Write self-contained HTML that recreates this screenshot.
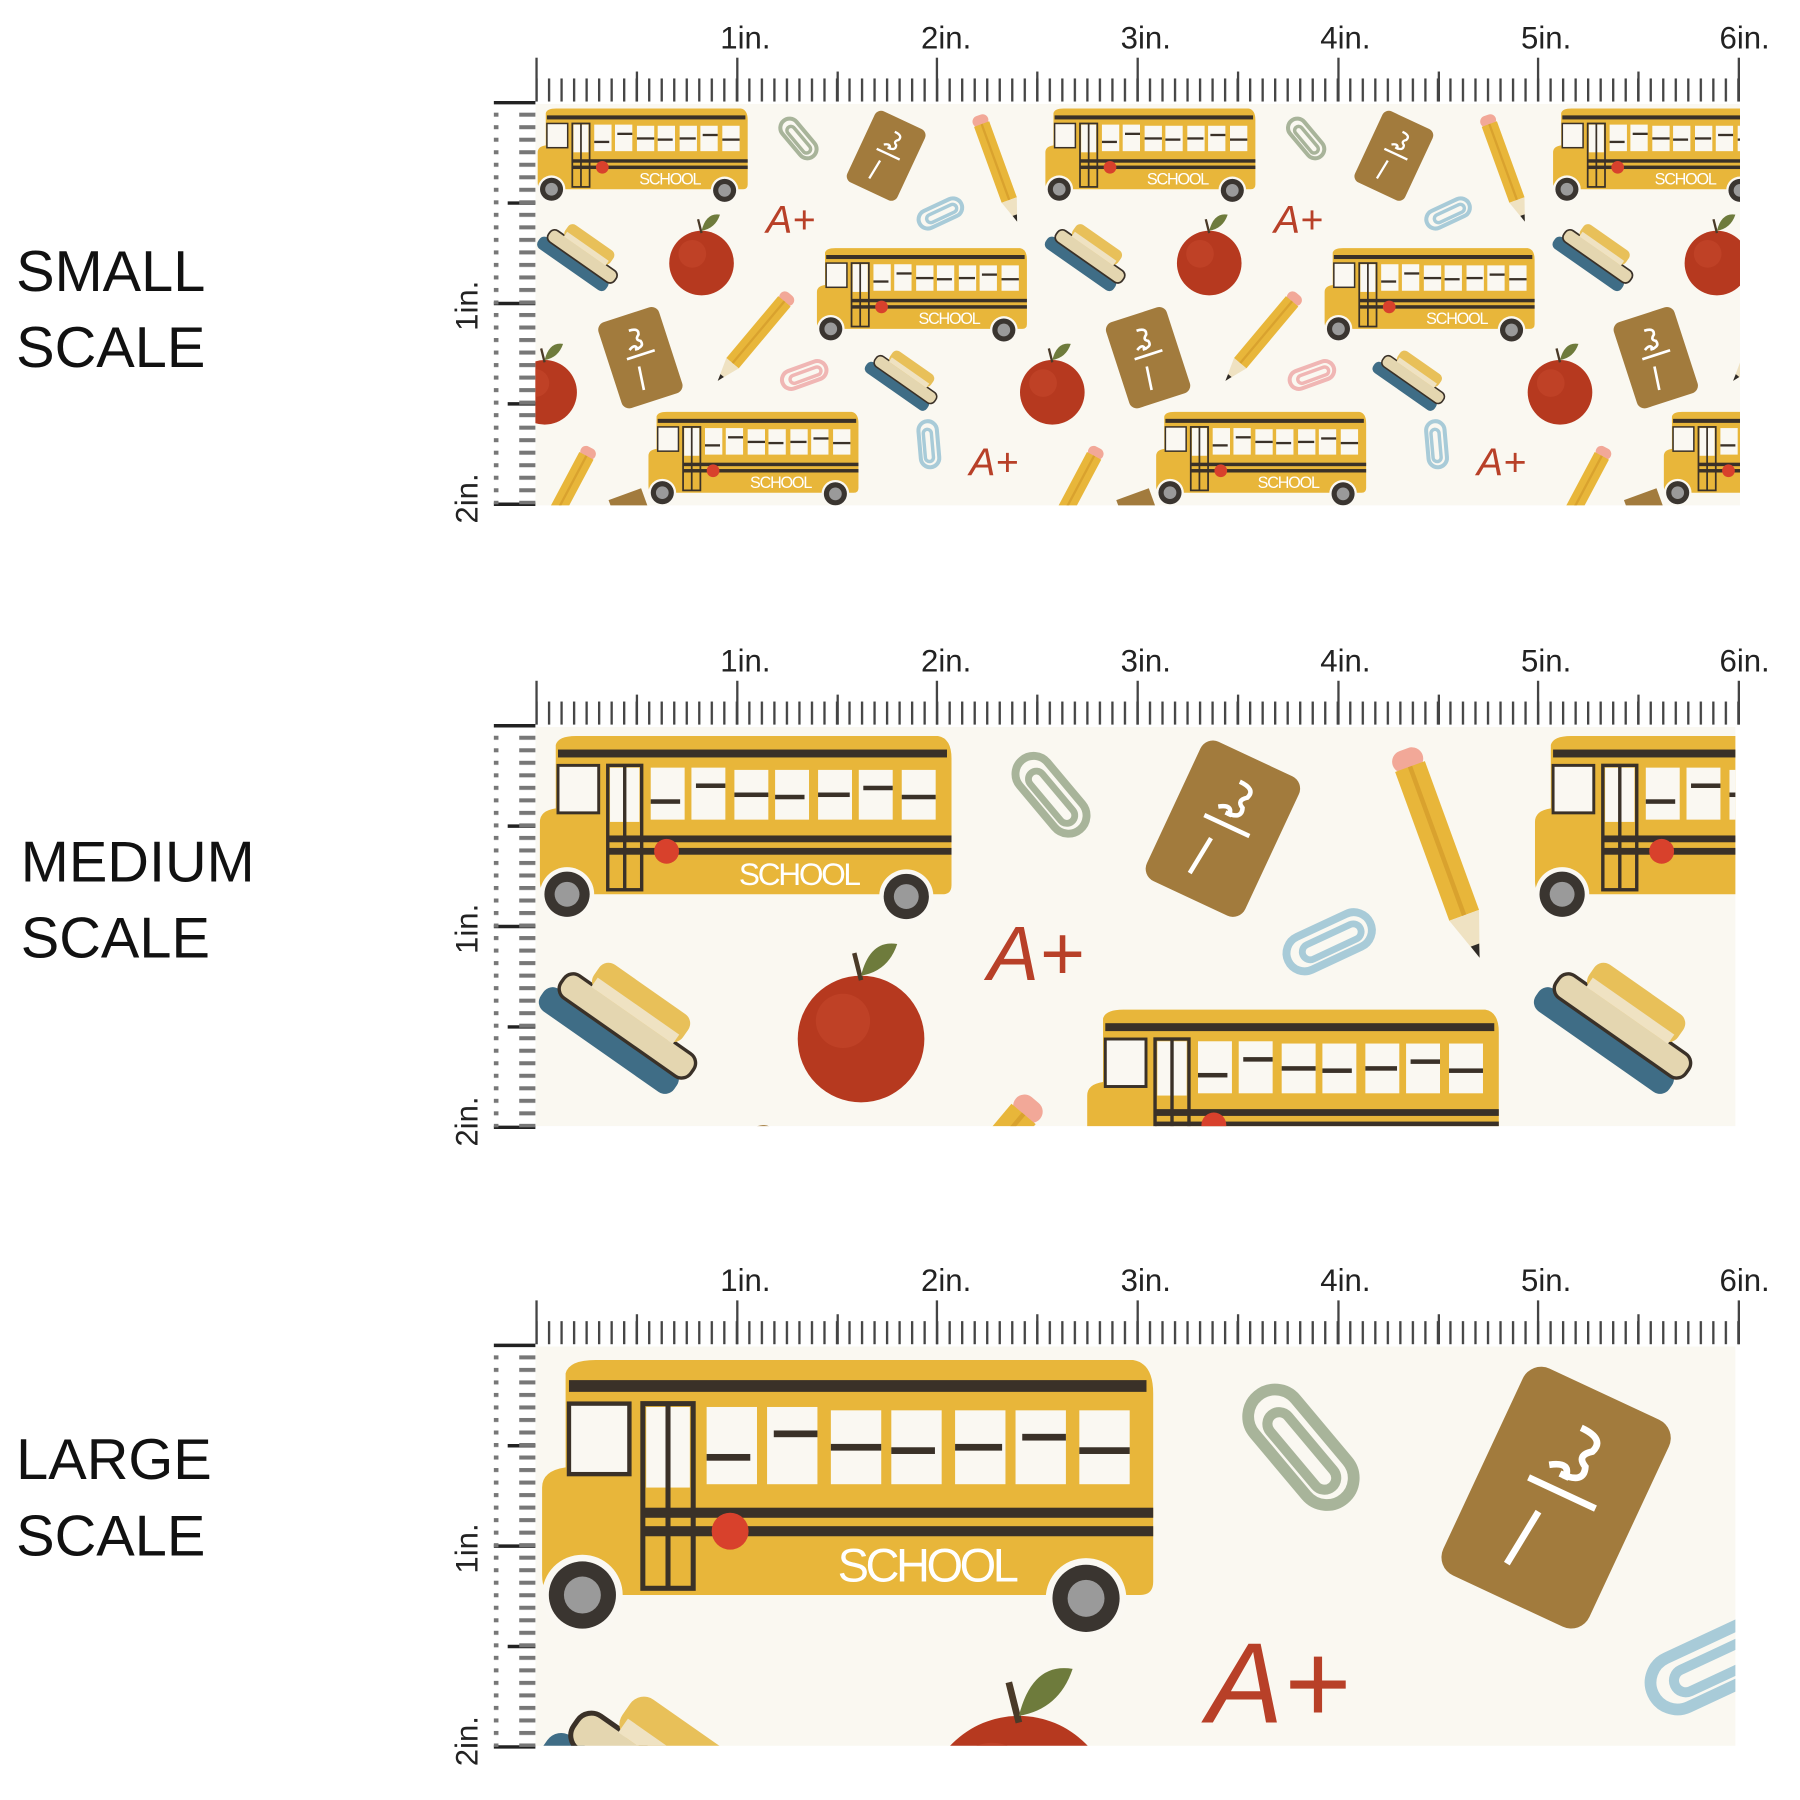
<!DOCTYPE html>
<html><head><meta charset="utf-8"><style>html,body{margin:0;padding:0;background:#fff;width:1800px;height:1800px;overflow:hidden}svg{display:block}</style></head>
<body>
<svg width="1800" height="1800" viewBox="0 0 1560 1560" xmlns="http://www.w3.org/2000/svg" font-family="Liberation Sans, sans-serif">
<defs>
  <g id="bus">
    <path d="M7 6 Q8 2 16 2 L176 2 Q182 3 182 12 L182 68 Q182 72 178 72 L4 72 Q0 72 0 66 L0 40 Q0 35 7 34 Z" fill="#e8b63a"/>
    <rect x="8" y="8" width="172" height="3.5" fill="#3a3128"/>
    <rect x="8" y="15" width="18" height="21" fill="#faf8f2" stroke="#3a3128" stroke-width="1.3"/>
    <rect x="30" y="15" width="15" height="55" fill="none" stroke="#3a3128" stroke-width="1.5"/>
    <rect x="31" y="16" width="13" height="24" fill="#faf8f2"/>
    <line x1="37.5" y1="15" x2="37.5" y2="70" stroke="#3a3128" stroke-width="1.5"/>
    <g fill="#faf8f2">
      <rect x="49" y="16" width="15" height="23"/><rect x="67" y="16" width="15" height="23"/><rect x="86" y="17" width="15" height="22"/><rect x="104" y="17" width="15" height="22"/><rect x="123" y="17" width="15" height="22"/><rect x="141" y="17" width="15" height="22"/><rect x="160" y="17" width="15" height="22"/>
    </g>
    <g fill="#3a3128">
      <rect x="49" y="30" width="13" height="2"/><rect x="69" y="23" width="13" height="2"/><rect x="86" y="27" width="15" height="2"/><rect x="104" y="28" width="13" height="2"/><rect x="123" y="27" width="14" height="2"/><rect x="143" y="24" width="13" height="2"/><rect x="160" y="28" width="15" height="2"/>
    </g>
    <rect x="30" y="46" width="152" height="3" fill="#3a3128"/>
    <rect x="30" y="51.5" width="152" height="3" fill="#3a3128"/>
    <circle cx="56" cy="53" r="5.5" fill="#d8412c"/>
    <text x="88" y="68" font-size="14" fill="#fff" textLength="54">SCHOOL</text>
    <circle cx="12" cy="72" r="12" fill="#faf8f2"/>
    <circle cx="12" cy="72" r="10" fill="#3a3530"/><circle cx="12" cy="72" r="5.5" fill="#9a9a9a"/>
    <circle cx="162" cy="73" r="12" fill="#faf8f2"/>
    <circle cx="162" cy="73" r="10" fill="#3a3530"/><circle cx="162" cy="73" r="5.5" fill="#9a9a9a"/>
  </g>
  <g id="board">
    <rect x="-24" y="-34" width="48" height="68" rx="6" fill="#a27b3d"/>
    <path d="M-2 -22 q8 0 6 5 q-4 3 0 5 q2 5 -6 5 M-10 -2 L12 -2 M-3 6 L-5 24 M-6 -8 q6 -4 6 2" stroke="#fff" stroke-width="2" fill="none"/>
  </g>
  <g id="pencil">
    <rect x="0" y="-7" width="10" height="14" rx="5" fill="#f2a898"/>
    <rect x="8" y="-7" width="70" height="14" fill="#e8b63a"/>
    <line x1="8" y1="0" x2="78" y2="0" stroke="#d9a22e" stroke-width="2"/>
    <path d="M78 -7 L98 0 L78 7 Z" fill="#efe2c2"/>
    <path d="M92 -2 L98 0 L92 2 Z" fill="#2e2a26"/>
  </g>
  <g id="clip">
    <rect x="-20" y="-8" width="40" height="16" rx="8" fill="none" stroke-width="3.5"/>
    <rect x="-13" y="-3" width="28" height="7" rx="3.5" fill="none" stroke-width="3"/>
  </g>
  <g id="books">
    <rect x="-38" y="6" width="72" height="12" rx="5" fill="#3f6d86"/>
    <rect x="-34" y="-4" width="70" height="12" rx="5" fill="#e4d6b0" stroke="#3a3128" stroke-width="1.5"/>
    <rect x="-24" y="-17" width="48" height="14" rx="5" fill="#e8c059"/>
    <rect x="-22" y="-8" width="44" height="5" fill="#efe2c2"/>
  </g>
  <g id="apple">
    <circle cx="0" cy="0" r="28" fill="#b6391f"/>
    <circle cx="-8" cy="-8" r="12" fill="#c4482c" opacity="0.6"/>
    <path d="M0 -26 L-3 -38" stroke="#4a3a28" stroke-width="2"/>
    <path d="M0 -28 Q4 -44 16 -42 Q12 -30 0 -28 Z" fill="#6e7b3c"/>
  </g>
  <g id="tile">
    <use href="#bus" transform="translate(2,2)"/>
    <use href="#bus" transform="translate(244,123)"/>
    <use href="#bus" transform="translate(98,265)"/>
    <use href="#clip" transform="translate(228,30) rotate(50)" stroke="#a8b49a" fill="none"/>
    <use href="#board" transform="translate(304,45) rotate(25)"/>
    <use href="#pencil" transform="translate(384,10) rotate(70)"/>
    <text x="200" y="112" font-size="34" font-style="italic" fill="#b84028">A+</text>
    <use href="#clip" transform="translate(351,95) rotate(-25)" stroke="#a8cbd8" fill="none"/>
    <use href="#books" transform="translate(41,130) rotate(35)"/>
    <use href="#apple" transform="translate(144,138)"/>
    <use href="#board" transform="translate(91,220) rotate(-18) scale(1.15)"/>
    <use href="#pencil" transform="translate(221,165) rotate(130)"/>
    <use href="#clip" transform="translate(233,235) rotate(-20)" stroke="#f0b6b4" fill="none"/>
    <use href="#books" transform="translate(321,237) rotate(35) scale(0.9)"/>
    <use href="#apple" transform="translate(8,250)"/>
    <use href="#clip" transform="translate(341,295) rotate(85)" stroke="#a8cbd8" fill="none"/>
    <text x="376" y="322" font-size="34" font-style="italic" fill="#b84028">A+</text>
    <use href="#pencil" transform="translate(48,298) rotate(118)"/>
    <rect x="66" y="338" width="30" height="20" fill="#a27b3d" transform="rotate(-20 80 348)"/>
  </g>
  <g id="pat">
    <rect x="0" y="0" width="1100" height="400" fill="#faf8f1"/>
    <use href="#tile" x="-440"/>
    <use href="#tile"/>
    <use href="#tile" x="440"/>
    <use href="#tile" x="880"/>
  </g>
  <clipPath id="c1"><rect x="464" y="90" width="1044" height="348"/></clipPath>
  <clipPath id="c2"><rect x="464" y="630" width="1040" height="346"/></clipPath>
  <clipPath id="c3"><rect x="464" y="1167" width="1040" height="346"/></clipPath>
  <pattern id="hs" patternUnits="userSpaceOnUse" x="464" y="0" width="10.85" height="20"><rect x="0" y="0" width="2" height="20" fill="#444"/></pattern>
  <pattern id="vs" patternUnits="userSpaceOnUse" x="0" y="0" width="36" height="10.85"><rect x="18" y="0" width="18" height="3.5" fill="#777"/></pattern>
</defs>
<rect width="1560" height="1560" fill="#fff"/>

<g clip-path="url(#c1)"><use href="#pat" transform="translate(464,90)"/></g>
<g clip-path="url(#c2)"><use href="#pat" transform="translate(464,630) scale(1.96)"/></g>
<g clip-path="url(#c3)"><use href="#pat" transform="translate(464,1167) scale(2.91)"/></g>

<g id="r1">
  <rect x="466" y="68" width="1042" height="20" fill="url(#hs)"/>
  <g stroke="#444" stroke-width="2">
    <line x1="465" y1="50" x2="465" y2="88"/><line x1="639" y1="50" x2="639" y2="88"/><line x1="812" y1="50" x2="812" y2="88"/><line x1="986" y1="50" x2="986" y2="88"/><line x1="1160" y1="50" x2="1160" y2="88"/><line x1="1333" y1="50" x2="1333" y2="88"/><line x1="1507" y1="50" x2="1507" y2="88"/>
    <line x1="552" y1="62" x2="552" y2="88"/><line x1="726" y1="62" x2="726" y2="88"/><line x1="899" y1="62" x2="899" y2="88"/><line x1="1073" y1="62" x2="1073" y2="88"/><line x1="1247" y1="62" x2="1247" y2="88"/><line x1="1420" y1="62" x2="1420" y2="88"/>
  </g>
  <g stroke="#222" stroke-width="3">
    <line x1="428" y1="89" x2="464" y2="89"/><line x1="428" y1="263" x2="464" y2="263"/><line x1="428" y1="437" x2="464" y2="437"/><line x1="440" y1="176" x2="464" y2="176"/><line x1="440" y1="350" x2="464" y2="350"/>
  </g>
  <rect x="428" y="92" width="36" height="345" fill="url(#vs)"/>
  <g font-size="27" fill="#222" text-anchor="middle">
    <text x="646" y="42">1in.</text><text x="820" y="42">2in.</text><text x="993" y="42">3in.</text><text x="1166" y="42">4in.</text><text x="1340" y="42">5in.</text><text x="1512" y="42">6in.</text>
  </g>
  <text transform="translate(414,265) rotate(-90)" font-size="27" fill="#222" text-anchor="middle">1in.</text>
  <text transform="translate(414,432) rotate(-90)" font-size="27" fill="#222" text-anchor="middle">2in.</text>
</g>
<use href="#r1" transform="translate(0,540)"/>
<use href="#r1" transform="translate(0,1077)"/>

<g font-size="50" fill="#111">
  <text x="14" y="252">SMALL</text><text x="14" y="318">SCALE</text>
  <text x="18" y="764">MEDIUM</text><text x="18" y="830">SCALE</text>
  <text x="14" y="1282">LARGE</text><text x="14" y="1348">SCALE</text>
</g>
</svg>
</body></html>
